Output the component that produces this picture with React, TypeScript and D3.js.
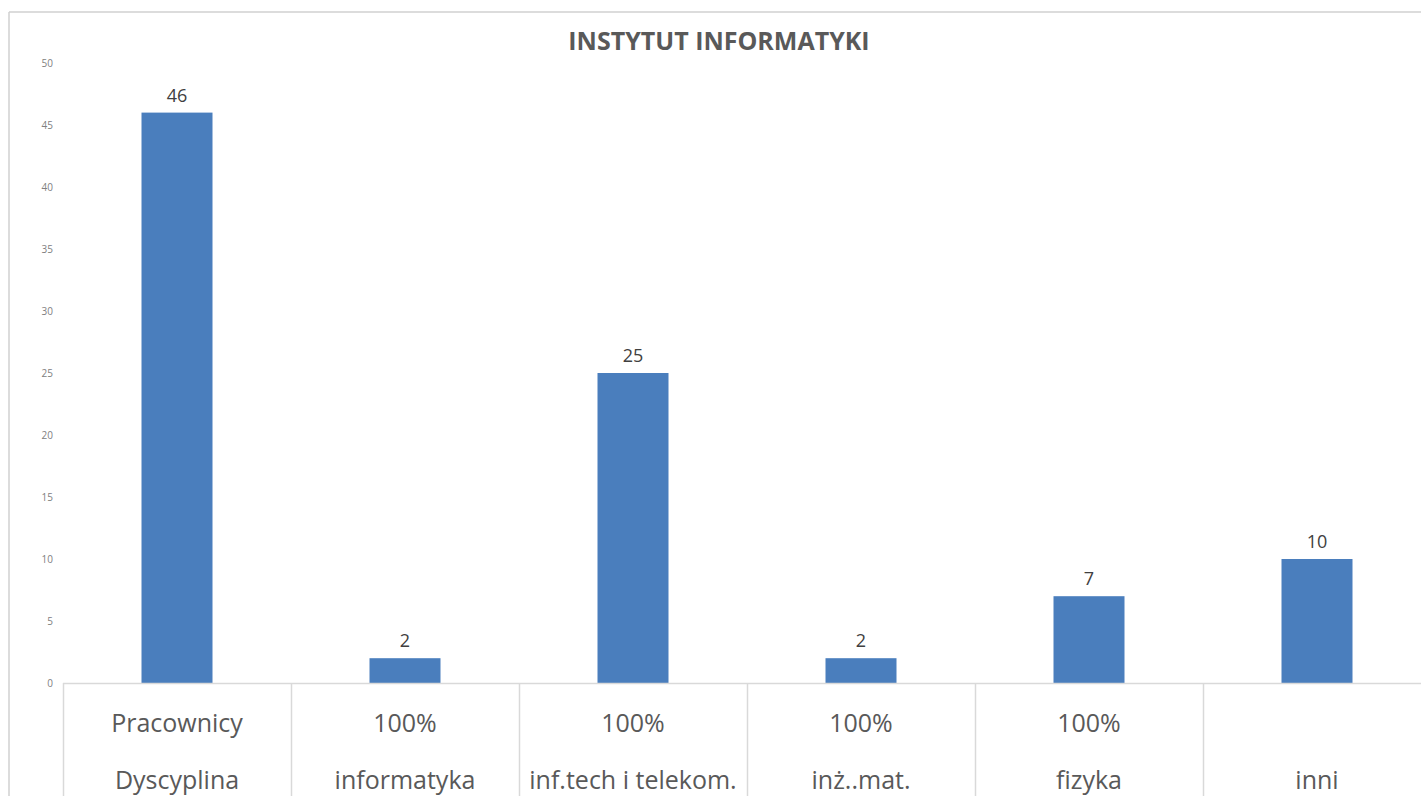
import React from "react";
import * as d3 from "d3";

const title = "INSTYTUT INFORMATYKI";
const categories = ["Pracownicy", "100%", "100%", "100%", "100%", ""];
const subCategories = ["Dyscyplina", "informatyka", "inf.tech i telekom.", "inż..mat.", "fizyka", "inni"];
const values = [46, 2, 25, 2, 7, 10];
const yTicks = [0, 5, 10, 15, 20, 25, 30, 35, 40, 45, 50];

export default function App() {
  const W = 1421, H = 796;
  const x0 = 63, bandW = 228;
  const ids = values.map((_, i) => i);
  const x = d3.scaleBand<number>().domain(ids).range([x0, x0 + bandW * ids.length]).paddingInner(0).paddingOuter(0);
  const y = d3.scaleLinear().domain([0, 50]).range([683, 63]);
  const barW = 71;
  const font = "'Open Sans', 'Noto Sans', sans-serif";
  return (
    <svg width={W} height={H} style={{ position: "fixed", left: 0, top: 0, background: "#fff" }}>
      <rect x={0} y={0} width={W} height={H} fill="#fff" />
      <line x1={9} y1={12} x2={W} y2={12} stroke="#d0d0d0" strokeWidth={1.5} />
      <line x1={9} y1={12} x2={9} y2={H} stroke="#d0d0d0" strokeWidth={1.5} />
      <text x={719} y={50} textAnchor="middle" fontFamily={font} fontWeight="bold" fontSize={25} fill="#595959">{title}</text>
      {yTicks.map(t => (
        <text key={t} x={53} y={y(t) + 3.5} textAnchor="end" fontFamily={font} fontSize={10} fill="#808080">{t}</text>
      ))}
      {values.map((v, i) => {
        const cx = (x(i) as number) + x.bandwidth() / 2;
        return (
          <g key={i}>
            <rect x={cx - barW / 2} y={y(v)} width={barW} height={y(0) - y(v)} fill="#4a7ebd" />
            <text x={cx} y={y(v) - 11} textAnchor="middle" fontFamily={font} fontSize={18} fill="#404040">{v}</text>
          </g>
        );
      })}
      <line x1={x0} y1={683.5} x2={W} y2={683.5} stroke="#d9d9d9" strokeWidth={1.5} />
      {ids.map(i => (
        <line key={i} x1={(x(i) as number) + 0.5} y1={683} x2={(x(i) as number) + 0.5} y2={H} stroke="#d9d9d9" strokeWidth={1.5} />
      ))}
      {ids.map(i => {
        const cx = (x(i) as number) + x.bandwidth() / 2;
        return (
          <g key={i}>
            <text x={cx} y={732} textAnchor="middle" fontFamily={font} fontSize={25} fill="#595959">{categories[i]}</text>
            <text x={cx} y={789} textAnchor="middle" fontFamily={font} fontSize={25} fill="#595959">{subCategories[i]}</text>
          </g>
        );
      })}
    </svg>
  );
}
